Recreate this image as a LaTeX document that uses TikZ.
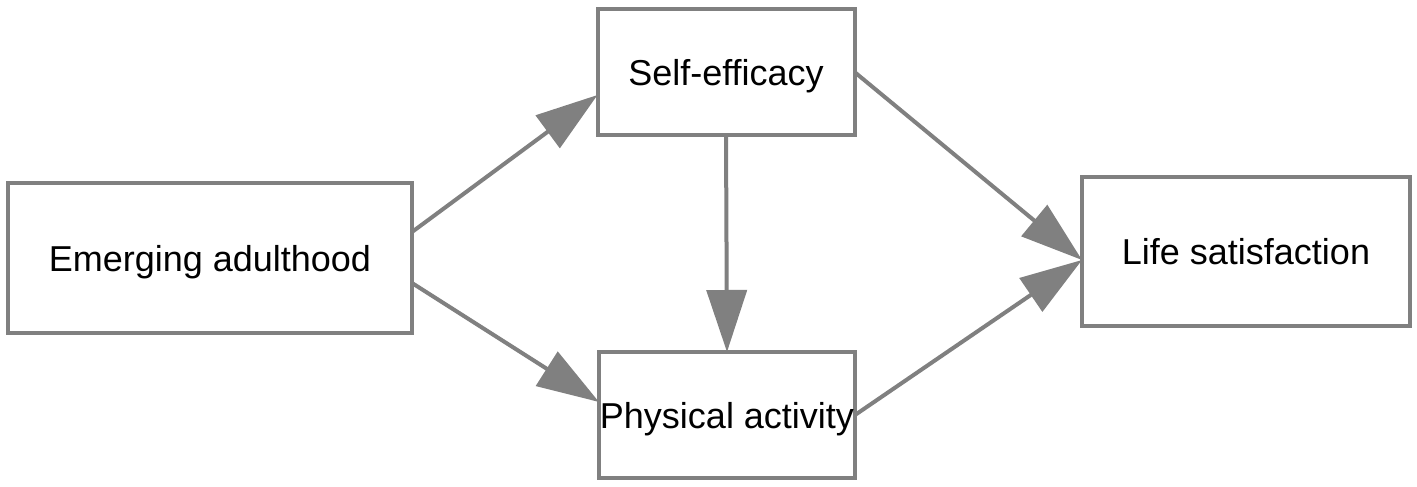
\documentclass[tikz,border=0pt]{standalone}
\usepackage{fontspec}
\setmainfont{Liberation Sans}
\usetikzlibrary{arrows.meta}

\begin{document}
\begin{tikzpicture}[x=1pt,y=-1pt,>={Triangle[length=62pt,width=40pt]},
  box/.style={draw=gray,line width=4pt,outer sep=0pt,inner sep=0pt,text height=26pt,text depth=0pt,font=\fontsize{36}{40}\selectfont},
  every edge/.append style={draw=gray,line width=4pt}]
\useasboundingbox (0,0) rectangle (1417,487);

\node[box,minimum width=404pt,minimum height=150pt] (ea) at (210,258) {Emerging adulthood};
\node[box,minimum width=257pt,minimum height=126pt] (se) at (726,72) {Self-efficacy};
\node[box,minimum width=256pt,minimum height=126pt] (pa) at (727,415) {Physical activity};
\node[box,minimum width=328pt,minimum height=149pt] (ls) at (1246,251) {Life satisfaction};

% From emerging adulthood to self-efficacy
\path ([yshift=26pt]ea.east) edge[->] ([yshift=-23pt]se.west)
% From emerging adulthood to physical activity
([yshift=-25pt]ea.east) edge[->] ([yshift=13pt]pa.west)
% From self-efficacy to physical activity
(se.south) edge[->] (pa.north)
% Both into life satisfaction
(se.east) edge[->] ([yshift=-9pt]ls.west)
(pa.east) edge[->] ([yshift=-9pt]ls.west);
\end{tikzpicture}
\end{document}
